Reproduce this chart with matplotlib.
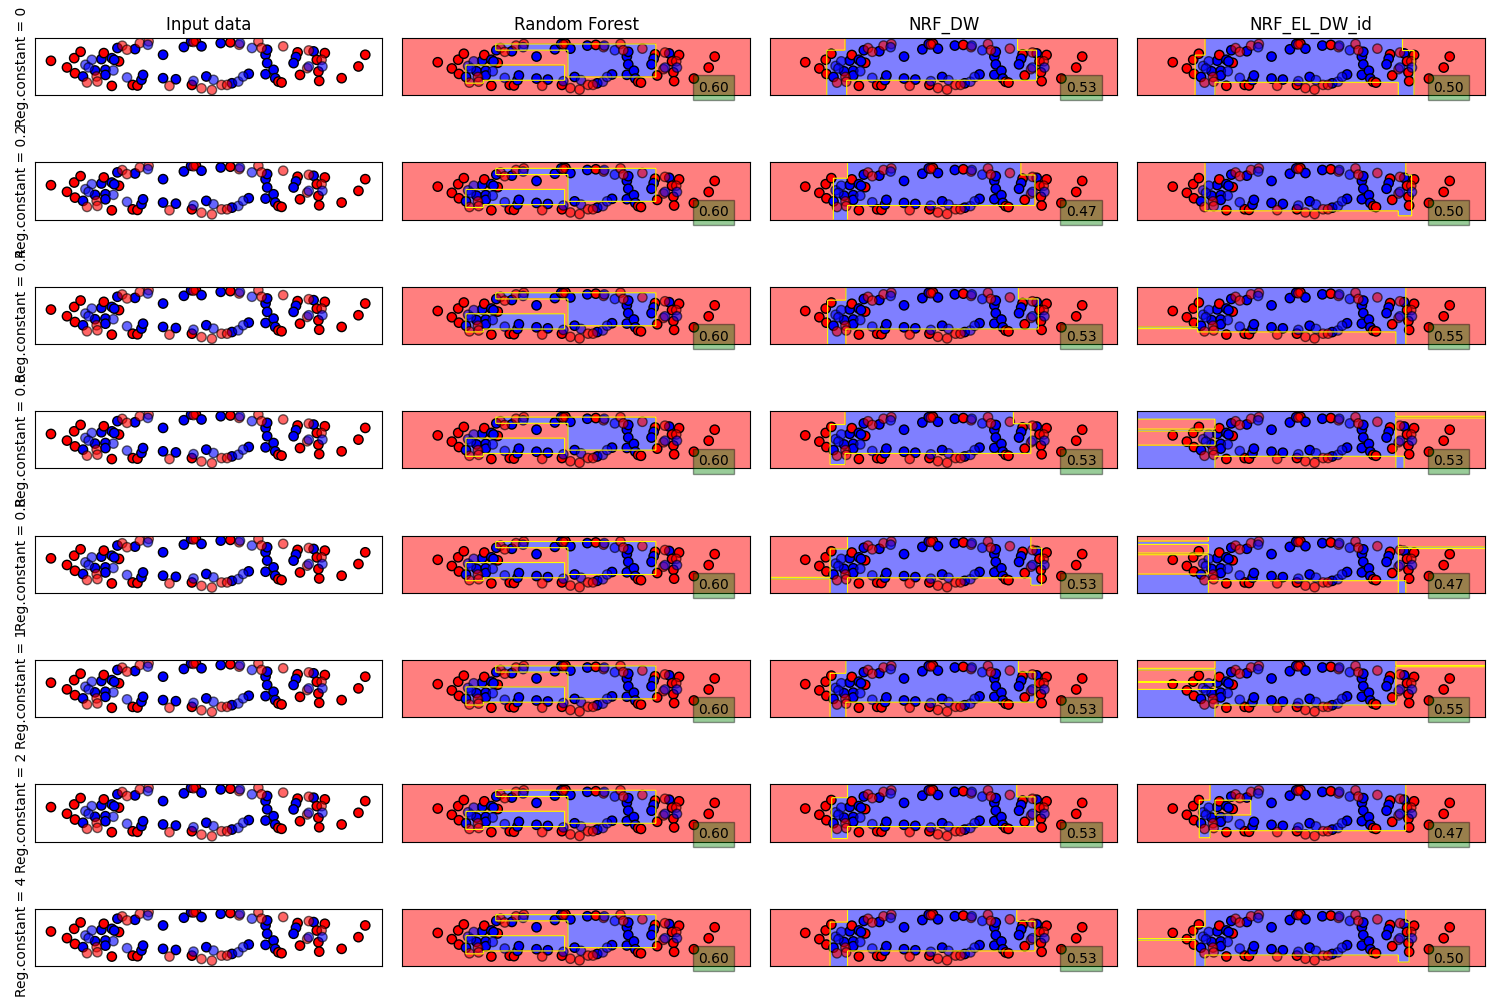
import matplotlib
matplotlib.use('Agg')
import matplotlib.pyplot as plt
from matplotlib.colors import ListedColormap
import numpy as np

# ---- data: input points ----
x_pts = [0.20, 0.40, 0.49, 0.57, 0.50, 0.60, 0.65, 0.63, 0.71, 0.67,
         0.75, 0.77, 0.78, 0.83, 0.86, 0.88, 0.88, 0.98, 0.96, 1.05,
         0.96, 1.15, 1.03, 1.09, 1.15, 1.25, 1.31, 1.42, 1.41, 1.22,
         1.28, 1.33, 1.35, 0.99, 1.60, 1.86, 1.95, 2.01, 1.98, 2.08,
         2.32, 2.44, 2.55, 2.56, 2.71, 2.79, 2.83, 2.88, 2.90, 2.88,
         1.60, 1.76, 1.68, 1.98, 1.96, 2.08, 2.21, 2.14, 2.23, 2.33,
         2.40, 2.46, 2.54, 2.60, 2.67, 2.90, 2.98, 3.00, 3.04, 3.08,
         3.10, 3.28, 3.26, 3.23, 3.42, 3.48, 3.62, 3.52, 3.58, 3.59,
         3.40, 3.42, 3.31, 3.54, 3.55, 3.83, 4.04, 4.125]
y_pts = [2.86, 2.31, 3.08, 3.61, 1.83, 1.56, 1.06, 2.53, 2.94, 2.31,
         2.06, 1.56, 1.14, 3.00, 3.50, 2.11, 1.69, 2.06, 3.08, 2.81,
         0.78, 1.48, 3.92, 4.11, 3.78, 3.83, 4.33, 4.47, 4.19, 0.86,
         0.81, 1.28, 1.69, 2.94, 3.36, 4.00, 4.47, 4.50, 4.42, 4.06,
         4.33, 4.39, 4.19, 4.33, 3.92, 4.47, 3.92, 3.36, 2.67, 1.75,
         1.42, 1.33, 0.78, 1.19, 0.86, 0.58, 0.44, 1.56, 1.28, 0.86,
         0.86, 1.00, 1.14, 1.56, 1.78, 3.78, 2.11, 1.42, 1.14, 1.06,
         4.06, 3.56, 3.17, 2.67, 3.72, 3.64, 3.50, 2.94, 2.94, 2.39,
         2.25, 2.39, 1.69, 1.97, 1.19, 1.42, 2.39, 3.36]
# 0 = red class, 1 = blue class
cls = [0, 0, 0, 0, 0, 1, 0, 1, 1, 1,
       1, 0, 0, 1, 0, 1, 1, 1, 1, 0,
       0, 1, 1, 0, 0, 1, 0, 0, 1, 0,
       0, 1, 1, 1, 1, 1, 1, 0, 0, 1,
       1, 0, 0, 1, 1, 0, 0, 1, 1, 1,
       1, 1, 0, 1, 0, 0, 0, 1, 1, 0,
       0, 1, 1, 1, 1, 1, 1, 1, 0, 0,
       0, 0, 1, 1, 0, 1, 0, 0, 0, 1,
       0, 1, 0, 0, 0, 0, 0, 0]
# 1 = test point (drawn semi transparent)
is_test = [0, 0, 0, 0, 0, 0, 1, 1, 1, 1,
           0, 1, 1, 0, 0, 0, 0, 1, 0, 0,
           0, 1, 0, 1, 1, 0, 1, 1, 1, 0,
           0, 0, 0, 0, 0, 0, 0, 0, 1, 0,
           0, 0, 1, 1, 1, 1, 1, 0, 0, 0,
           0, 0, 1, 1, 0, 1, 1, 0, 1, 1,
           1, 0, 1, 1, 0, 0, 0, 0, 0, 0,
           1, 0, 0, 0, 1, 0, 0, 0, 1, 1,
           1, 1, 0, 0, 0, 0, 0, 0]

reg_constants = ['0', '0.2', '0.4', '0.6', '0.8', '1', '2', '4']
names = ['Random Forest', 'NRF_DW', 'NRF_EL_DW_id']

scores_rf = [0.60, 0.60, 0.60, 0.60, 0.60, 0.60, 0.60, 0.60]
scores_dw = [0.53, 0.47, 0.53, 0.53, 0.53, 0.53, 0.53, 0.53]
scores_el = [0.50, 0.50, 0.55, 0.53, 0.47, 0.55, 0.47, 0.50]

# blue decision regions as boxes (x0, x1, y0, y1), rest is red
rf_blue = [(2.04, 3.29, 1.55, 4.47), (1.02, 2.04, 3.94, 4.47),
           (0.83, 2.00, 1.27, 2.60), (0.60, 0.85, 1.00, 2.60)]

dw_blue = [
    [(0.76, 3.21, 1.27, 5.0), (3.21, 3.48, 1.27, 3.94), (0.51, 0.79, -0.06, 3.94)],
    [(0.80, 3.25, 1.18, 5.0), (3.25, 3.45, 1.18, 3.90), (0.60, 0.80, -0.06, 3.60)],
    [(0.78, 3.22, 1.27, 5.0), (3.22, 3.50, 1.27, 3.94), (0.52, 0.78, -0.06, 3.80)],
    [(0.76, 3.15, 1.27, 5.0), (3.15, 3.40, 1.27, 3.90), (0.55, 0.76, 0.30, 3.80)],
    [(0.80, 3.40, 1.27, 5.0), (0.55, 0.80, -0.06, 3.80), (-0.30, 0.55, 1.15, 1.32),
     (3.40, 3.55, 0.60, 3.90)],
    [(0.78, 3.22, 1.27, 5.0), (3.22, 3.45, 1.27, 3.94), (0.55, 0.78, -0.06, 3.80)],
    [(0.80, 3.20, 1.27, 5.0), (3.20, 3.45, 1.27, 3.90), (0.58, 0.80, 0.20, 3.80)],
    [(0.80, 3.20, 1.27, 5.0), (3.20, 3.45, 1.27, 3.90), (0.55, 0.80, -0.06, 3.80)],
]

el_blue = [
    [(0.66, 3.45, 1.09, 5.0), (0.52, 0.80, -0.06, 3.50), (3.40, 3.62, -0.06, 3.90)],
    [(0.66, 3.50, 0.74, 5.0), (3.40, 3.58, 0.30, 3.90)],
    [(0.55, 3.50, 1.00, 5.0), (-0.30, 0.55, 1.30, 1.45), (3.36, 3.50, -0.06, 3.80)],
    [(0.80, 3.36, 1.00, 5.0), (-0.30, 0.80, -0.06, 2.00), (-0.30, 0.80, 4.30, 5.0),
     (-0.30, 0.80, 3.25, 3.40), (3.36, 4.625, 4.40, 4.55), (3.36, 3.48, -0.06, 1.00)],
    [(0.70, 3.40, 1.00, 5.0), (-0.30, 0.70, 4.20, 4.50), (-0.30, 0.70, 3.30, 3.45),
     (-0.30, 0.70, -0.06, 1.60), (3.40, 4.625, 3.85, 4.00), (3.40, 3.50, -0.06, 1.00)],
    [(0.80, 3.36, 1.00, 5.0), (-0.30, 0.80, -0.06, 2.40), (-0.30, 0.80, 4.10, 4.25),
     (-0.30, 0.80, 3.00, 3.10), (3.36, 4.625, 4.40, 4.50)],
    [(0.73, 3.50, 0.92, 5.0), (0.58, 0.73, 0.30, 3.60)],
    [(0.66, 3.50, 0.92, 5.0), (0.52, 0.66, -0.06, 3.40), (-0.30, 0.52, 2.20, 2.35),
     (3.40, 3.55, 0.30, 3.80)],
]
# red pockets inside blue regions
el_red = {6: [(0.80, 1.30, 2.30, 3.60)]}

# ---- plotting ----
x_pts = np.array(x_pts)
y_pts = np.array(y_pts)
cls = np.array(cls)
test = np.array(is_test) == 1
train = ~test

cm_bright = ListedColormap(['#FF0000', '#0000FF'])

x_min, x_max = x_pts.min() - .5, x_pts.max() + .5
y_min, y_max = y_pts.min() - .5, y_pts.max() + .5
xx, yy = np.meshgrid(np.linspace(x_min, x_max, 420), np.linspace(y_min, y_max, 140))


def region(blue_boxes, red_boxes=()):
    Z = np.ones_like(xx)
    for x0, x1, y0, y1 in blue_boxes:
        Z[(xx >= x0) & (xx <= x1) & (yy >= y0) & (yy <= y1)] = 0
    for x0, x1, y0, y1 in red_boxes:
        Z[(xx >= x0) & (xx <= x1) & (yy >= y0) & (yy <= y1)] = 1
    return Z


def draw_points(ax):
    ax.scatter(x_pts[train], y_pts[train], c=cls[train], cmap=cm_bright,
               vmin=0, vmax=1, edgecolors='k', s=45)
    ax.scatter(x_pts[test], y_pts[test], c=cls[test], cmap=cm_bright,
               vmin=0, vmax=1, edgecolors='k', s=45, alpha=0.6)


fig, axes = plt.subplots(8, 4, figsize=(15, 10))
plt.subplots_adjust(left=0.0233, right=0.99, bottom=0.034, top=0.962,
                    wspace=0.0575, hspace=1.17)

for r in range(8):
    ax = axes[r, 0]
    draw_points(ax)
    ax.set_xlim(0, 4.34)
    ax.set_ylim(0, 4.75)
    ax.set_xticks(())
    ax.set_yticks(())
    ax.set_ylabel('Reg.constant = ' + reg_constants[r])
    if r == 0:
        ax.set_title('Input data')

    panels = [(rf_blue, [], scores_rf[r]),
              (dw_blue[r], [], scores_dw[r]),
              (el_blue[r], el_red.get(r, []), scores_el[r])]
    for c, (blue, red, score) in enumerate(panels):
        ax = axes[r, c + 1]
        Z = region(blue, red)
        ax.contourf(xx, yy, Z, levels=[-0.5, 0.5, 1.5],
                    colors=['#0000FF', '#FF0000'], alpha=0.5)
        ax.contour(xx, yy, Z, levels=[0.5], colors='yellow', linewidths=0.8)
        draw_points(ax)
        ax.set_xlim(x_min, x_max)
        ax.set_ylim(y_min, y_max)
        ax.set_xticks(())
        ax.set_yticks(())
        if r == 0:
            ax.set_title(names[c])
        ax.text(x_max - .3, y_min + .3, ('%.2f' % score), size=10,
                horizontalalignment='right',
                bbox=dict(facecolor='green', alpha=0.4))

plt.savefig('out.png', dpi=100)
